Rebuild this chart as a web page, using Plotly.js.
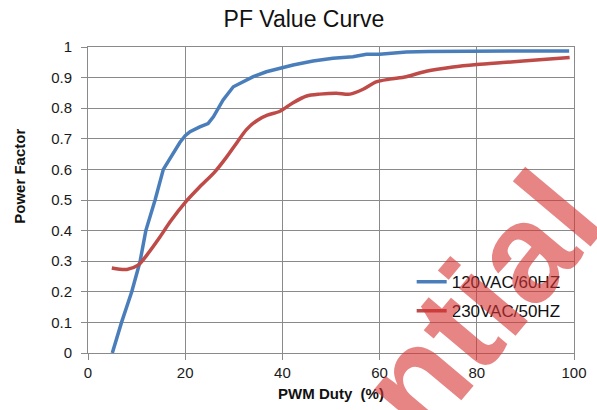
<!DOCTYPE html>
<html>
<head>
<meta charset="utf-8">
<script src="https://cdn.plot.ly/plotly-3.0.1.min.js"></script>
<style>html,body{margin:0;padding:0;background:#fff;}#chart{width:597px;height:410px;}</style>
</head>
<body>
<div id="chart"></div>
<script>
var seriesNames = ["120VAC/60HZ", "230VAC/50HZ"];

var blueDuty = [5.0, 6.9, 9.0, 10.7, 11.9, 13.8, 15.5, 17.0, 18.9, 20.0, 21.0, 23.0, 24.7, 25.8, 27.8, 29.9, 31.9, 34.0, 36.7, 39.5, 42.2, 46.3, 50.4, 54.5, 57.3, 60.0, 65.5, 70.0, 80.0, 90.0, 99.0];
var bluePF = [0, 0.10, 0.20, 0.298, 0.40, 0.50, 0.60, 0.64, 0.688, 0.71, 0.723, 0.739, 0.75, 0.772, 0.827, 0.870, 0.886, 0.903, 0.919, 0.930, 0.941, 0.954, 0.963, 0.968, 0.976, 0.976, 0.984, 0.985, 0.987, 0.987, 0.987];

var redDuty = [4.9, 8.0, 10.3, 12.1, 14.8, 16.9, 20.1, 23.0, 26.1, 28.5, 30.7, 32.6, 34.8, 36.9, 39.5, 42.2, 45.0, 47.7, 51.1, 53.9, 56.6, 59.3, 62.1, 65.5, 69.6, 75.1, 80.0, 86.1, 92.9, 99.1];
var redPF = [0.278, 0.273, 0.287, 0.320, 0.379, 0.429, 0.494, 0.543, 0.592, 0.640, 0.689, 0.730, 0.760, 0.777, 0.790, 0.818, 0.840, 0.846, 0.849, 0.846, 0.862, 0.886, 0.895, 0.903, 0.921, 0.935, 0.943, 0.950, 0.958, 0.966];

var xTicks = [0, 20, 40, 60, 80, 100];
var yTicks = [0, 0.1, 0.2, 0.3, 0.4, 0.5, 0.6, 0.7, 0.8, 0.9, 1];
var yTickText = ["0", "0.1", "0.2", "0.3", "0.4", "0.5", "0.6", "0.7", "0.8", "0.9", "1"];

var gridCol = "#8a8a8a";
var font = "Liberation Sans, Arial, sans-serif";

var traces = [
  {x: blueDuty, y: bluePF, name: seriesNames[0], mode: "lines", type: "scatter",
   line: {color: "#4a7ebb", width: 3.5}, legendgroup: "a"},
  {x: redDuty, y: redPF, name: seriesNames[1], mode: "lines", type: "scatter",
   line: {color: "#be4b48", width: 3.5, shape: "spline", smoothing: 0.8}, legendgroup: "b"}
];

var layout = {
  width: 597, height: 410,
  margin: {l: 88, r: 23, t: 47, b: 57, pad: 0},
  paper_bgcolor: "#fff", plot_bgcolor: "#fff",
  font: {family: font, color: "#1a1a1a", size: 15},
  title: {text: "PF Value Curve", font: {size: 23, color: "#111", family: font},
          x: 0.509, xanchor: "center", y: 0.955, yanchor: "middle", yref: "container"},
  xaxis: {range: [0, 100], tickvals: xTicks, ticktext: xTicks.map(String),
          showgrid: true, gridcolor: gridCol, gridwidth: 1,
          showline: true, linecolor: gridCol, linewidth: 1, mirror: true,
          ticks: "outside", ticklen: 6, tickcolor: gridCol, zeroline: false,
          tickfont: {size: 15}, fixedrange: true,
          title: {text: "PWM Duty\u00a0 (%)", font: {size: 15, family: font, weight: "bold", color: "#111"}, standoff: 8}},
  yaxis: {range: [0, 1], tickvals: yTicks, ticktext: yTickText,
          showgrid: true, gridcolor: gridCol, gridwidth: 1,
          showline: true, linecolor: gridCol, linewidth: 1, mirror: true,
          ticks: "outside", ticklen: 6, tickcolor: gridCol, zeroline: false,
          tickfont: {size: 15}, ticklabelstandoff: 6, fixedrange: true},
  showlegend: true,
  legend: {x: 0.666, y: 0.184, xanchor: "left", yanchor: "middle",
           bgcolor: "rgba(0,0,0,0)", font: {size: 17, color: "#111"},
           tracegroupgap: 4, itemwidth: 30},
  annotations: [
    {text: "<b>Power Factor</b>", xref: "paper", yref: "paper", x: -0.14, y: 0.579,
     xanchor: "center", yanchor: "middle", textangle: -90, showarrow: false,
     font: {size: 15, family: font, color: "#111"}},
    {text: "<b>Confidential</b>", xref: "paper", yref: "paper", x: 0.462, y: -0.490,
     xanchor: "center", yanchor: "middle", textangle: -50, showarrow: false,
     font: {size: 140, family: font, color: "rgba(215,50,50,0.6)"}}
  ]
};

Plotly.newPlot("chart", traces, layout, {displayModeBar: false, staticPlot: true});
</script>
</body>
</html>
